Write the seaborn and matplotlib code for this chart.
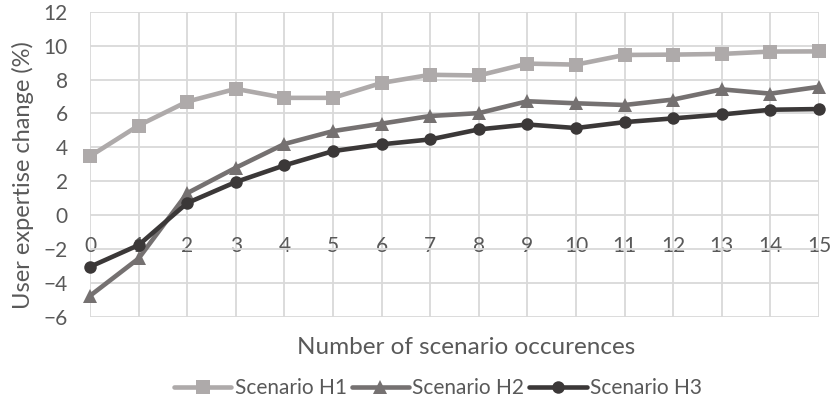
import matplotlib
matplotlib.use("Agg")
import matplotlib.pyplot as plt
import seaborn as sns
import pandas as pd

occurrences = list(range(16))
h1 = [3.48, 5.29, 6.7, 7.45, 6.92, 6.92, 7.8, 8.28, 8.24, 8.94, 8.88, 9.45, 9.47, 9.51, 9.65, 9.66]
h2 = [-4.75, -2.55, 1.3, 2.8, 4.2, 4.96, 5.4, 5.85, 6.02, 6.72, 6.6, 6.5, 6.82, 7.42, 7.17, 7.57]
h3 = [-3.04, -1.76, 0.72, 1.96, 2.94, 3.78, 4.18, 4.47, 5.06, 5.35, 5.14, 5.49, 5.71, 5.94, 6.22, 6.26]
series_names = ["Scenario H1", "Scenario H2", "Scenario H3"]
y_ticks = list(range(-6, 13, 2))

colors = {"Scenario H1": "#AEAAAA", "Scenario H2": "#757171", "Scenario H3": "#3B3838"}
markers = {"Scenario H1": "s", "Scenario H2": "^", "Scenario H3": "o"}
msizes = {"Scenario H1": 9.5, "Scenario H2": 10, "Scenario H3": 9}

df = pd.DataFrame({
    "x": occurrences * 3,
    "y": h1 + h2 + h3,
    "series": [s for s in series_names for _ in occurrences],
})

sns.set_style("white")
plt.rcParams["font.family"] = ["Lato", "DejaVu Sans"]
text_color = "#595959"
tick_fs = 15

fig = plt.figure(figsize=(8.32, 4.05), dpi=100)
ax = fig.add_axes([90 / 832, 1 - 317 / 405, (819 - 90) / 832, (317 - 11.7) / 405])

for name in series_names:
    sub = df[df["series"] == name]
    sns.lineplot(data=sub, x="x", y="y", ax=ax, color=colors[name], marker=markers[name],
                 markersize=msizes[name], markeredgewidth=0, linewidth=3.3, label=name,
                 clip_on=False, zorder=3)

ax.set_xlim(0, 15)
ax.set_ylim(-6, 12)
ax.set_xticks(occurrences)
ax.set_yticks(y_ticks)
ax.grid(True, color="#D9D9D9", linewidth=1.3, zorder=0)
ax.set_axisbelow(True)
for s in ax.spines.values():
    s.set_visible(False)
ax.spines["bottom"].set_position(("data", 0))
ax.tick_params(axis="x", length=0, pad=15, labelsize=tick_fs, colors=text_color)
ax.tick_params(axis="y", length=0, pad=16, labelsize=tick_fs, colors=text_color)
ax.set_xlabel("")
ax.set_ylabel("")
fig.text(23 / 832, 1 - 175 / 405, "User expertise change (%)", fontsize=17, rotation=90,
         color=text_color, ha="center", va="center")
fig.text(466 / 832, 1 - 347 / 405, "Number of scenario occurences", fontsize=17.5,
         color=text_color, ha="center", va="center")

if ax.legend_:
    ax.legend_.remove()
handles, labels = ax.get_legend_handles_labels()
fig.legend(handles, labels, loc="center", bbox_to_anchor=(438 / 832, 1 - 388 / 405), ncol=3,
           frameon=False, fontsize=tick_fs, labelcolor=text_color, handlelength=2.75,
           handletextpad=0.15, columnspacing=0.25)

fig.savefig("out.png", dpi=100)
